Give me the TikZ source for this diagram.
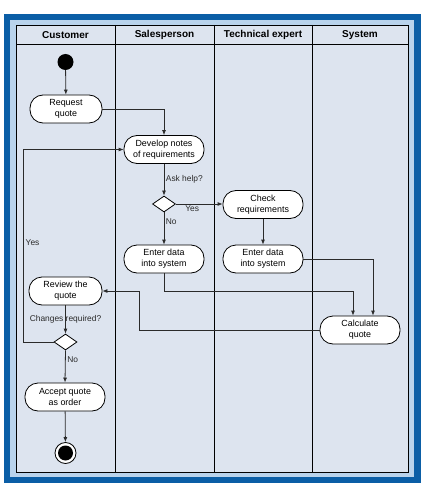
\documentclass[tikz,border=0pt]{standalone}
\usepackage{fontspec}
\setmainfont{Liberation Sans}
\usetikzlibrary{shapes.geometric,arrows.meta}
\definecolor{frameblue}{HTML}{0B5EA6}
\definecolor{stripblue}{HTML}{B9D3EC}
\definecolor{lanebg}{HTML}{DDE4EF}
\definecolor{flowgrey}{HTML}{2A2A2A}
\begin{document}
\begin{tikzpicture}[x=1pt,y=-1pt,
  act/.style={draw, fill=white, line width=.8pt, rounded corners=13pt, minimum width=80pt, minimum height=28pt, inner sep=0pt, align=center, font=\fontsize{8.9}{11}\selectfont},
  choice/.style={diamond, draw, fill=white, line width=.8pt, minimum width=23pt, minimum height=16pt, inner sep=0pt},
  flow/.style={draw=flowgrey, line width=.8pt, -{Latex[length=5pt,width=4pt]}},
  lbl/.style={font=\fontsize{8.4}{10}\selectfont, inner sep=1.5pt, text=flowgrey},
  lane/.style={font=\bfseries\fontsize{10}{12}\selectfont}]
\useasboundingbox (0,0) rectangle (435,497);
\fill[frameblue] (4,14) rectangle (421,483);
\fill[stripblue] (10,20) rectangle (414,477);
\fill[lanebg] (16,25) rectangle (408,472);
\draw[line width=.8pt] (16,25) rectangle (408,472);
\draw[line width=.8pt] (16,44) -- (408,44);
\foreach \lx in {115,214,312} \draw[line width=.8pt] (\lx,25) -- (\lx,472);
\node[lane] (hcust) at (65.5,35) {Customer};
\node[lane] (hsales) at (164.5,35) {Salesperson};
\node[lane] (htech) at (263,35) {Technical expert};
\node[lane] (hsys) at (360,35) {System};
% activities
\node[circle, fill, minimum size=16pt, inner sep=0pt] (start) at (65.5,62) {};
\node[act, minimum width=72pt] (request) at (66,109) {Request\\quote};
\node[act] (develop) at (164,149.5) {Develop notes\\of requirements};
\node[choice] (ask) at (164,204) {};
\node[act] (check) at (263,204.5) {Check\\requirements};
\node[act] (entersales) at (164,259) {Enter data\\into system};
\node[act] (entertech) at (263,259) {Enter data\\into system};
\node[act, minimum width=73pt] (review) at (65.5,291) {Review the\\quote};
\node[act] (calc) at (360,330) {Calculate\\quote};
\node[choice] (changes) at (65.5,342) {};
\node[act] (accept) at (65,397) {Accept quote\\as order};
\node[circle, draw, fill=white, line width=.8pt, minimum size=21pt, inner sep=0pt] (stop) at (65.5,453) {};
\node[circle, fill, minimum size=15pt, inner sep=0pt] (stopdot) at (stop) {};
\coordinate (join) at (353,291);
\coordinate (back) at (139,291);
\coordinate (loop) at (23,149.5);
% flows
\draw[flow] (start) -- (request);
\draw[flow] (request.east) -| (develop.north);
\draw[flow] (develop) -- (ask) node[lbl, midway, right] (askl) {Ask help?};
\draw[flow] (ask.east) -- (ask.east -| check.west) node[lbl, pos=.35, below] (yesa) {Yes};
\draw[flow] (ask.south) -- (entersales.north) node[lbl, pos=.3, right] (noa) {No};
\draw[flow] (check) -- (entertech);
\draw[flow] (entersales.south) |- (join) -- (join |- calc.north);
\draw[flow] (entertech.east) -| ([xshift=13pt]calc.north);
\draw[flow] (calc.west) -| (back) -- (review.east);
\draw[flow] (review) -- (changes) node[lbl, midway] (chl) {Changes required?};
\draw[flow] (changes.west) -| (loop) -- (develop.west);
\node[lbl, anchor=west] (yesb) at (24,243) {Yes};
\draw[flow] (changes.south) -- (accept.north) node[lbl, pos=.3, right] (nob) {No};
\draw[flow] (accept) -- (stop);
\end{tikzpicture}
\end{document}
